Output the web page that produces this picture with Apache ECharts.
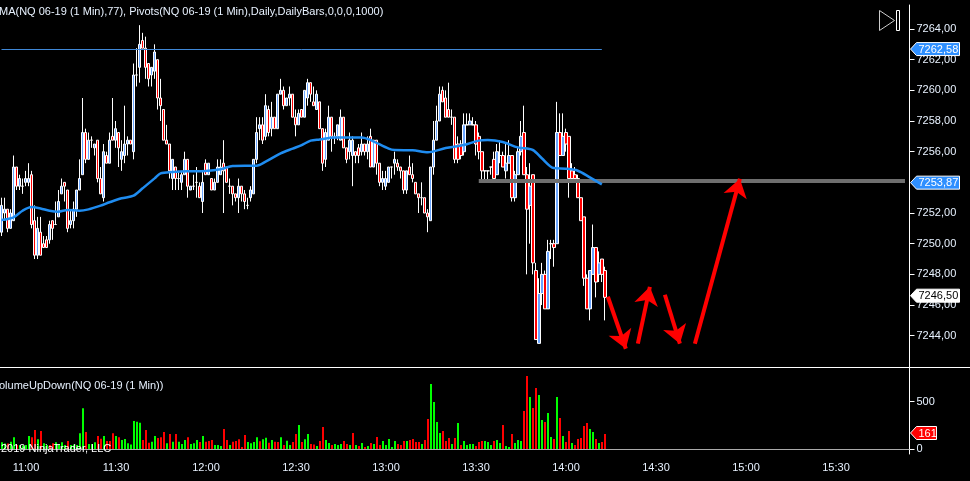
<!DOCTYPE html>
<html><head><meta charset="utf-8">
<style>html,body{margin:0;padding:0;background:#000}#c{width:970px;height:481px}</style>
<script src="https://cdn.jsdelivr.net/npm/echarts@6/dist/echarts.min.js"></script>
</head><body><div id="c"></div>
<script>
const candles = [ // open, close, low, high
[7250.75,7252.5,7250.5,7253],[7252,7252.25,7251.5,7253],[7252.25,7251,7250.75,7252.25],[7251,7252,7251,7252.25],[7251.5,7255,7251.5,7255.75],
[7255,7253.75,7253.5,7255],[7253.75,7254.25,7253.5,7254.5],[7253.75,7253.75,7253.25,7254.25],[7254,7254.25,7253.75,7254.75],[7254,7254.25,7253.75,7255.25],
[7254.5,7251.25,7251,7254.75],[7251.5,7249.25,7249,7252.5],[7249.25,7251,7249,7251.75],[7250.75,7249.25,7249.25,7251.75],[7250,7249.75,7249.75,7250.5],
[7250.25,7249.75,7249.75,7250.5],[7250.25,7251.25,7250,7251.5],[7251.5,7251,7250.25,7251.5],[7251.25,7251.25,7251.25,7252.75],[7251.75,7252.75,7251.75,7253.5],
[7253.25,7253.75,7253.25,7254.25],[7254,7253.75,7252.75,7254],[7253.5,7251,7250.75,7253.5],[7251.25,7251.5,7251,7252.25],[7251.5,7252.25,7251,7252.75],
[7252.25,7253.5,7251.75,7253.5],[7253.5,7254.25,7253.5,7255.5],[7254.5,7257.25,7254.5,7259.5],[7257.25,7255.5,7255.25,7257.5],[7255.5,7256.75,7255.5,7257.25],
[7256.75,7256.75,7256.25,7257],[7256.25,7256.5,7255.75,7256.5],[7256.75,7254.25,7254,7256.75],[7254.25,7253.25,7253.25,7255],[7253,7256,7252.75,7256.5],
[7255.75,7255.25,7255.25,7256],[7255.25,7256.75,7255.25,7257.25],[7257,7256.75,7256.75,7259.5],[7256.75,7257.5,7256.25,7258],[7257.25,7256.25,7255,7257.25],
[7255.5,7256,7254.75,7256.75],[7255.75,7256.5,7255.25,7259],[7256.5,7256.75,7255.75,7257],[7256.75,7256.5,7256.5,7256.75],[7256,7261,7255.5,7261.75],
[7261,7261,7260.25,7262.75],[7261.5,7263,7260.5,7264.25],[7263.25,7262.75,7262.75,7263.75],[7262.75,7261.5,7260.75,7263.5],[7261.75,7260.75,7260.25,7261.75],
[7261,7261.5,7260.25,7261.5],[7261.25,7262.5,7260.75,7263],[7262,7259.5,7258.75,7262],[7259.5,7259,7258,7260.75],[7258.75,7256.75,7256.75,7258.75],
[7256.75,7256.5,7256.5,7257.75],[7256.5,7254.75,7254.25,7256.5],[7254.25,7255.5,7253.5,7255.5],[7255,7254.25,7253.5,7255],[7254.25,7254.25,7253.5,7254.75],
[7254,7254.5,7253.5,7254.75],[7254.5,7255.5,7254.5,7256],[7255.5,7253.75,7253,7255.5],[7253.5,7253.75,7253.5,7253.75],[7253.75,7253.75,7253.5,7254.5],
[7254,7254,7253,7255],[7253.75,7253,7253,7254],[7252.75,7254,7252,7254.75],[7255.25,7254.5,7254.5,7255.5],[7254.5,7255.25,7254.5,7255.25],
[7254.25,7253.5,7253.5,7254.25],[7253.5,7254,7253.5,7254.25],[7254,7255,7254,7255.5],[7254.5,7255,7254.5,7255.5],[7255.25,7254.75,7252,7256.75],
[7255,7254,7254,7255],[7253.75,7253.75,7253.25,7254.25],[7253.75,7253.25,7252.5,7253.75],[7253.25,7253,7252.75,7253.25],[7253,7253.75,7252,7254.25],
[7253.75,7253.25,7252.75,7253.75],[7253.25,7252.75,7252.25,7253.5],[7252.5,7252.5,7252.25,7253],[7253,7253.5,7252.75,7253.75],[7253.25,7255.5,7253.25,7255.5],
[7255.5,7257.25,7255.25,7258.25],[7257.5,7257.75,7256.75,7258.25],[7257.75,7256.75,7256.5,7258.25],[7257,7259,7256.75,7259.75],[7258.75,7257.25,7257,7259],
[7257.5,7258.25,7257,7259.25],[7258.25,7257.5,7257.5,7258.25],[7257.5,7259.75,7257.5,7259.75],[7259.75,7260,7259.75,7260.75],[7260,7259,7258.75,7260.25],
[7259,7259.5,7259,7259.5],[7259.5,7259.75,7259,7260.25],[7259.75,7258.25,7258.25,7259.75],[7258.25,7257.75,7257,7258.75],[7257.75,7258.5,7257.75,7258.75],
[7258.75,7258.25,7258.25,7258.75],[7258.25,7260,7258.25,7260],[7259.5,7260.5,7259,7260.75],[7260.5,7259.75,7259.25,7260.5],[7259.25,7259,7259,7260.25],
[7258.75,7259.75,7258.75,7260],[7259.25,7257.5,7257.5,7259.25],[7257.5,7255.25,7254.75,7257.5],[7255.5,7257.25,7255,7257.5],[7256.75,7258.25,7256.75,7259],
[7258.25,7257,7256,7258.25],[7257,7257,7256.5,7257.25],[7257,7257.75,7256.75,7257.75],[7256.75,7258.25,7256.75,7258.75],[7258.25,7256.25,7256.25,7258.25],
[7256.25,7255.5,7255.25,7256.25],[7256,7256.75,7255.5,7257.25],[7255.75,7256.75,7253.75,7257],[7256,7255.75,7255.25,7256],[7256.25,7255.75,7255.25,7256.5],
[7256,7256.5,7255.75,7257.25],[7256.5,7256,7255.75,7256.5],[7256,7256.5,7255.5,7257],[7257,7255,7255,7257.5],[7255,7256.75,7255,7256.75],
[7256.75,7255.25,7254.5,7256.75],[7255.25,7254,7253.75,7255.25],[7254,7254.25,7253.5,7254.75],[7253.75,7254.25,7253.5,7254.75],[7254,7255,7254,7255],
[7255,7255,7254.25,7255],[7255.25,7255.5,7254.5,7256],[7255.25,7255,7254.75,7255.5],[7255,7254.75,7254.25,7255],[7254.75,7253.5,7253.25,7254.75],
[7253.5,7254.75,7253.25,7254.75],[7255,7254.5,7254.5,7255.75],[7254.5,7254.25,7254,7255.25],[7254,7253.25,7253.25,7254],[7253.25,7253,7252,7253.25],
[7253,7253,7252.5,7254],[7253,7252,7252,7253],[7252,7251.75,7250.75,7252.25],[7251.5,7255,7251.5,7255],[7255,7256.75,7254.5,7258],
[7256.75,7258,7256.75,7259],[7258,7259.75,7258,7260.25],[7260,7259.25,7259.25,7260.25],[7259.5,7258.25,7258.25,7260],[7258.75,7258.25,7258.25,7260.5],
[7258.25,7258.25,7257.75,7258.75],[7258.25,7255.5,7255.25,7258.25],[7256.5,7255.5,7255.25,7257],[7256.5,7255.75,7255.5,7256.75],[7256,7257.75,7255.75,7258.5],
[7257.75,7257.75,7257.75,7258.5],[7257.75,7258,7257.75,7258.5],[7257.75,7257.75,7257.75,7258.25],[7257.75,7256.5,7255.75,7258],[7257,7256,7255.5,7257.25],
[7256,7254.75,7254,7256],[7254.75,7254.75,7254,7254.75],[7254.75,7254.75,7254,7254.75],[7255,7255,7254.5,7255],[7255.5,7254.25,7254,7256],
[7254.5,7256,7254.5,7256.5],[7255.75,7255.75,7255.25,7256.75],[7255.75,7255,7255,7256],[7254.75,7255.25,7254.25,7256.5],[7255.25,7255.75,7255.25,7256.75],
[7255.75,7253,7252.75,7255.75],[7253,7254.5,7252.75,7254.75],[7254.5,7256,7254.5,7256.25],[7256,7257,7255.75,7258],[7257.25,7254.5,7254.5,7259],
[7254.5,7252.25,7248,7255],[7252.5,7253.75,7250,7255.25],[7254.5,7248.75,7248,7254.5],[7248.25,7243.75,7243.75,7248.75],[7243.5,7246.75,7243.5,7247.75],
[7246.75,7248,7246,7248.75],[7248,7245.75,7245.75,7248.25],[7245.75,7249.5,7245.75,7250.25],[7250,7250,7249,7250.25],[7250,7249.75,7248.5,7250.25],
[7250,7257.25,7250,7259.25],[7257.25,7255.75,7255.75,7258.5],[7255.75,7257,7255.75,7258.5],[7257.25,7256.5,7256,7257.5],[7257,7254.25,7253,7257],
[7254.75,7254.25,7254.25,7255.25],[7254.5,7254.25,7254,7255],[7254.25,7253,7253,7254.5],[7253,7251.5,7251.5,7253],[7251.75,7247.75,7247.25,7251.75],
[7247.75,7245.75,7245.75,7248],[7245.75,7248.25,7245,7248.25],[7248,7249.75,7248,7251.25],[7249.75,7247.5,7246.5,7249.75],[7248,7248.75,7247.5,7249.5],
[7249,7248,7247.5,7249],[7248.25,7246.5,7245,7248.5]
];
const volumes = [73,60,60,80,126,45,45,40,45,140,126,203,105,192,63,45,45,63,73,56,73,45,87,45,52,45,168,430,182,56,56,73,140,112,140,87,87,168,140,126,98,108,63,52,297,290,280,98,203,70,80,140,119,126,182,63,161,80,161,80,56,98,126,56,63,98,77,140,80,87,98,45,45,35,213,98,45,80,87,105,25,150,77,63,77,126,84,105,122,70,98,80,77,126,45,91,45,77,161,255,77,105,161,56,50,35,87,234,98,66,45,56,45,56,87,56,45,171,45,35,66,24,35,66,56,129,45,87,45,108,24,87,56,45,87,87,98,108,77,77,56,98,318,686,497,287,171,192,87,119,56,119,276,45,87,45,56,56,35,77,87,87,77,45,87,98,66,255,35,24,161,66,98,87,402,770,549,434,644,570,308,287,381,129,108,549,329,140,77,192,66,45,108,119,245,276,213,182,108,66,77,161];
const volumeUp = new Set([0,1,3,4,6,7,8,9,12,14,15,18,19,20,21,23,24,25,26,27,29,30,31,34,38,40,41,42,43,44,45,46,50,51,55,57,59,60,61,63,64,65,67,71,72,73,76,82,83,84,85,87,88,90,93,95,96,99,101,102,105,108,109,111,112,113,116,118,120,122,124,127,128,129,130,131,135,140,143,144,145,146,150,152,154,155,156,157,161,162,163,165,166,168,169,171,172,173,176,179,180,182,183,185,187,190,196,197,199]);
const maPoints = [[0,7251.54],[4,7251.72],[7,7252.15],[10,7252.39],[13,7252.30],[16,7252.15],[19,7252.09],[22,7252.20],[26,7252.15],[29,7252.24],[33,7252.48],[36,7252.70],[40,7252.96],[44,7253.13],[47,7253.61],[51,7254.26],[53,7254.59],[57,7254.67],[62,7254.72],[68,7254.74],[73,7254.85],[77,7255.07],[81,7255.09],[85,7255.09],[88,7255.35],[93,7255.89],[97,7256.20],[100,7256.43],[103,7256.72],[106,7256.80],[111,7256.93],[115,7256.93],[120,7256.93],[123,7256.76],[129,7256.20],[131,7256.11],[137,7256.09],[142,7255.96],[148,7256.24],[154,7256.43],[159,7256.72],[162,7256.76],[167,7256.63],[172,7256.28],[177,7256.11],[180,7255.57],[184,7254.93],[188,7254.89],[192,7254.76],[196,7254.33],[200,7253.87]];
const priceTicks = [7244,7246,7248,7250,7252,7256,7258,7260,7262,7264];
const volumeTicks = [0,500];
const pivotLevel = 7253.87, pivotDrawn = 7254.13, upperPivot = 7262.58, upperDrawn = 7262.68, lastClose = 7246.5, lastVolume = 161;
const arrows = [[[202,7246.54],[207.7,7243.15]],[[212,7243.48],[216,7247.19]],[[220.5,7246.67],[226,7243.48]],[[231,7243.48],[246,7254.23]]];
const minutes = []; for(let m=10*60+52;m<10*60+52+303;m++){minutes.push(String(Math.floor(m/60)).padStart(2,'0')+':'+String(m%60).padStart(2,'0'));}
const isHalfHour = (i,v)=>v.endsWith(':00')||v.endsWith(':30');

const FONT='"Liberation Sans",Arial,sans-serif', TXT='#e8f2ff';
const fmt=v=>v.toFixed(2).replace('.',',');
const chart=echarts.init(document.getElementById('c'),null,{renderer:'canvas'});
const tagText=[fmt(upperPivot),fmt(pivotLevel),fmt(lastClose)];
function tag(params,api){
  const y=api.coord([0,api.value(0)])[1]-1.7;
  const w=api.value(2), x=910.5, fill=api.value(3)===0?'#2e8fff':'#ffffff', fg=api.value(3)===1?'#000':'#fff';
  return {type:'group',children:[
    {type:'polygon',shape:{points:[[x,y],[x+6,y-6.5],[x+w,y-6.5],[x+w,y+6.5],[x+6,y+6.5]]},style:{fill,stroke:'#fff',lineWidth:1}},
    {type:'text',style:{x:x+8,y:y+0.5,text:String(tagText[params.dataIndex]),fill:fg,font:'11px '+FONT,verticalAlign:'middle'}}
  ]};
}
chart.setOption({
  animation:false,backgroundColor:'#000',
  grid:[{left:0,top:5,width:909.5,height:362},{left:0.5,top:367,width:909,height:87}],
  xAxis:[
    {type:'category',gridIndex:0,data:minutes,show:false},
    {type:'category',gridIndex:1,data:minutes,
     axisLine:{lineStyle:{color:'#fff',width:1}},
     axisTick:{interval:isHalfHour,alignWithLabel:true,length:4,lineStyle:{color:'#fff'}},
     axisLabel:{interval:isHalfHour,color:TXT,fontFamily:FONT,fontSize:11,margin:8}}
  ],
  yAxis:[
    {type:'value',gridIndex:0,position:'right',min:7241.96,max:7265.565,scale:true,
     axisLine:{show:true,lineStyle:{color:'#fff'}},
     axisTick:{show:true,length:5,lineStyle:{color:'#fff'},customValues:priceTicks},
     axisLabel:{color:TXT,fontFamily:FONT,fontSize:11,margin:7,padding:[2,0,0,0],customValues:priceTicks,formatter:fmt},splitLine:{show:false}},
    {type:'value',gridIndex:1,position:'right',min:-49,max:864,
     axisLine:{show:true,lineStyle:{color:'#fff'}},
     axisTick:{show:true,length:5,lineStyle:{color:'#fff'},customValues:volumeTicks},
     axisLabel:{color:TXT,fontFamily:FONT,fontSize:11,margin:7,padding:[2,0,0,0],customValues:volumeTicks},splitLine:{show:false}}
  ],
  series:[
    {type:'candlestick',xAxisIndex:0,yAxisIndex:0,data:candles,barWidth:3,z:2,
     itemStyle:{color:'#6aa5ff',color0:'#ff0000',borderColor:'#fff',borderColor0:'#fff',borderWidth:1},
     markLine:{silent:true,symbol:'none',label:{show:false},animation:false,
       data:[[{coord:[0,upperDrawn],lineStyle:{color:'#3f87d6',width:1,type:'solid'}},{coord:[200,upperDrawn]}],
             [{coord:[158.5,pivotDrawn],lineStyle:{color:'#6e6e6e',width:4,type:'solid'}},{coord:[301,pivotDrawn]}]]}},
    {type:'line',xAxisIndex:0,yAxisIndex:0,data:maPoints,showSymbol:false,smooth:0.3,z:5,
     lineStyle:{color:'#1f8cf0',width:2.5},
     markLine:{silent:true,symbol:['none','arrow'],symbolSize:18,label:{show:false},animation:false,z:6,
       lineStyle:{color:'#ff0000',width:4,type:'solid'},
       data:arrows.map(a=>[{coord:a[0]},{coord:a[1]}])}},
    {type:'bar',xAxisIndex:1,yAxisIndex:1,data:volumes,barWidth:2,z:3,
     itemStyle:{color:p=>volumeUp.has(p.dataIndex)?'#00ff00':'#ff0000'},
     markLine:{silent:true,symbol:'none',label:{show:false},animation:false,lineStyle:{color:'#aaa',width:1,type:'solid'},data:[{yAxis:0}]}},
    {type:'custom',xAxisIndex:0,yAxisIndex:0,z:10,renderItem:tag,encode:{y:0},
     data:[[upperPivot,0,49,0],[pivotLevel,0,49,0],[lastClose,0,49,1]]},
    {type:'custom',xAxisIndex:1,yAxisIndex:1,z:10,encode:{y:0},
     renderItem:(params,api)=>{
       const y=api.coord([0,api.value(0)])[1]-1,x=910.5,w=26;
       return {type:'group',children:[
        {type:'polygon',shape:{points:[[x,y],[x+6,y-6.5],[x+w,y-6.5],[x+w,y+6.5],[x+6,y+6.5]]},style:{fill:'#ff0000',stroke:'#fff',lineWidth:1}},
        {type:'text',style:{x:x+8,y:y+0.5,text:String(lastVolume),fill:'#fff',font:'11px '+FONT,verticalAlign:'middle'}}]};
     },data:[[lastVolume]]}
  ],
  graphic:[
    {type:'text',left:-1,top:6,z:20,style:{text:'MA(NQ 06-19 (1 Min),77), Pivots(NQ 06-19 (1 Min),Daily,DailyBars,0,0,0,1000)',fill:TXT,font:'11px '+FONT}},
    {type:'text',left:-1,top:380,z:20,style:{text:'olumeUpDown(NQ 06-19 (1 Min))',fill:TXT,font:'11px '+FONT}},
    {type:'text',left:1,top:443,z:20,style:{text:'2019 NinjaTrader, LLC',fill:'#fff',font:'11px '+FONT}},
    {type:'line',z:20,shape:{x1:0,y1:367.5,x2:970,y2:367.5},style:{stroke:'#fff',lineWidth:1}},
    {type:'polygon',z:20,shape:{points:[[879.5,10.5],[894.5,20.5],[879.5,30.5]]},style:{fill:'none',stroke:'#ccc',lineWidth:1}},
    {type:'rect',z:20,shape:{x:896.5,y:10.5,width:3,height:20},style:{fill:'none',stroke:'#fff',lineWidth:1}}
  ]
});
</script></body></html>
